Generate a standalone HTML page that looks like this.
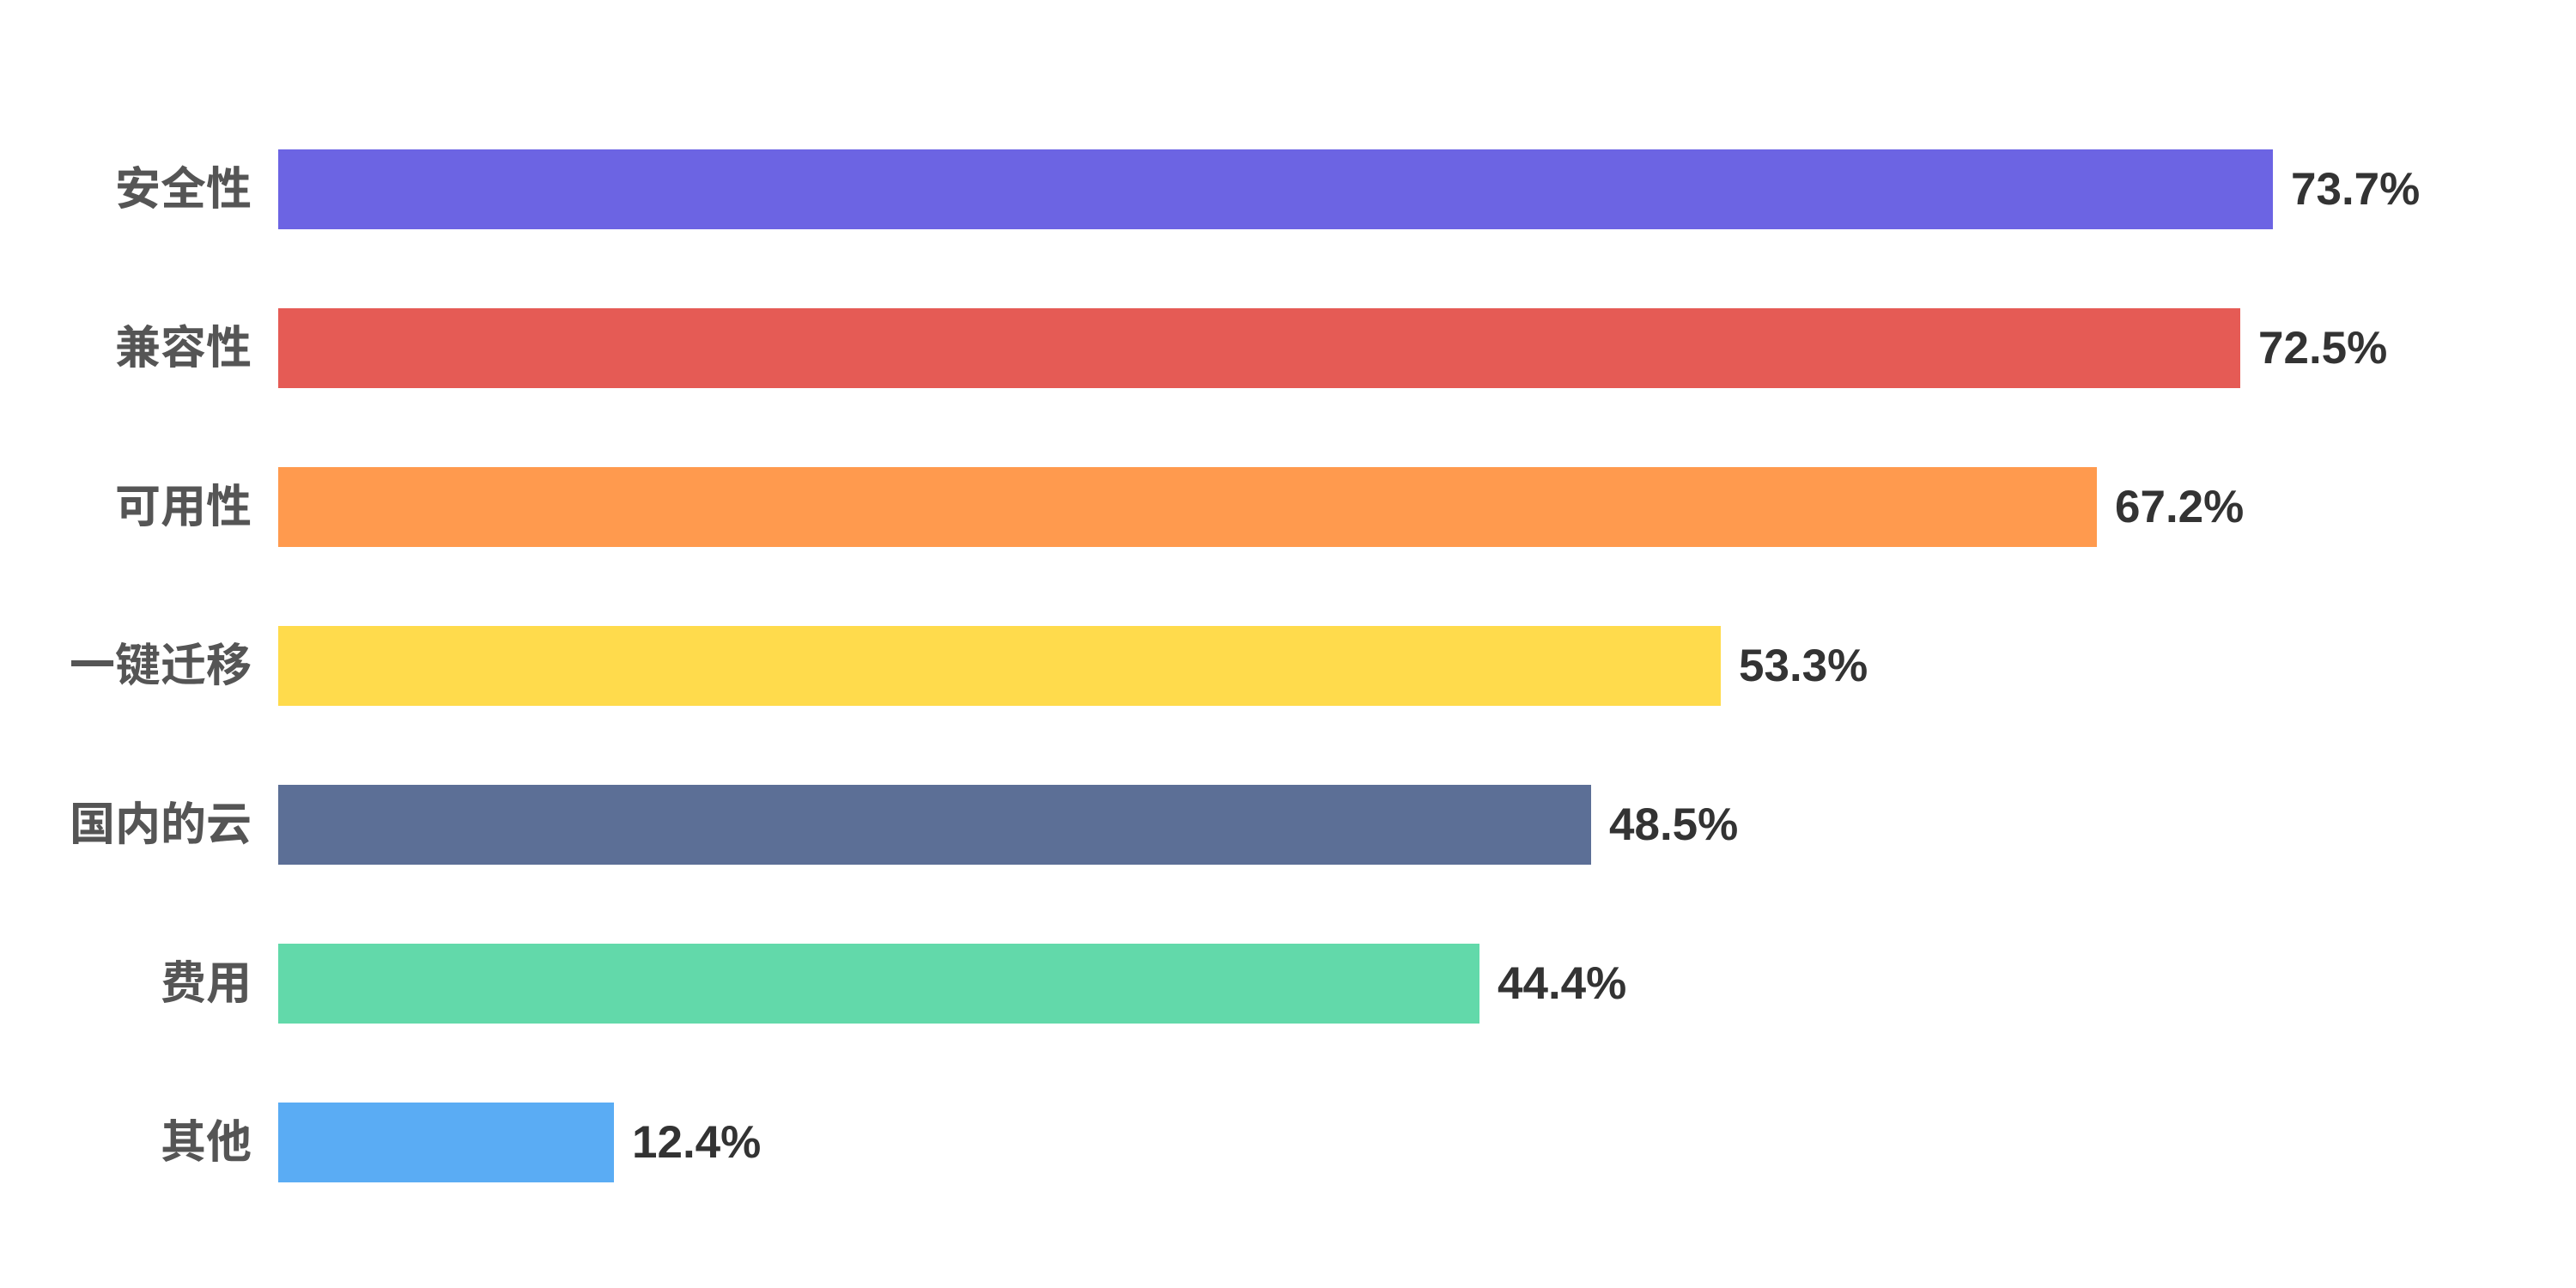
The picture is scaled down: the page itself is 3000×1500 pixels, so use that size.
<!DOCTYPE html>
<html><head><meta charset="utf-8"><style>
body{margin:0;width:3000px;height:1500px;background:#fff;position:relative;overflow:hidden;font-family:"Liberation Sans","Noto Sans CJK SC",sans-serif;font-weight:bold}
.l{position:absolute;right:2707px;font-size:53px;color:#555;line-height:93px;white-space:nowrap}
.b{position:absolute;left:324px;height:93px}
.v{position:absolute;font-size:53px;color:#333;line-height:93px;white-space:nowrap}
</style></head><body>
<div class="l" style="top:174px">安全性</div><div class="b" style="top:174px;width:2323px;background:#6c64e3"></div><div class="v" style="top:174px;left:2668px">73.7%</div>
<div class="l" style="top:359px">兼容性</div><div class="b" style="top:359px;width:2285px;background:#e55b55"></div><div class="v" style="top:359px;left:2630px">72.5%</div>
<div class="l" style="top:544px">可用性</div><div class="b" style="top:544px;width:2118px;background:#ff9a4e"></div><div class="v" style="top:544px;left:2463px">67.2%</div>
<div class="l" style="top:729px">一键迁移</div><div class="b" style="top:729px;width:1680px;background:#ffdb4c"></div><div class="v" style="top:729px;left:2025px">53.3%</div>
<div class="l" style="top:914px">国内的云</div><div class="b" style="top:914px;width:1529px;background:#5c6f96"></div><div class="v" style="top:914px;left:1874px">48.5%</div>
<div class="l" style="top:1099px">费用</div><div class="b" style="top:1099px;width:1399px;background:#62d9aa"></div><div class="v" style="top:1099px;left:1744px">44.4%</div>
<div class="l" style="top:1284px">其他</div><div class="b" style="top:1284px;width:391px;background:#5aacf4"></div><div class="v" style="top:1284px;left:736px">12.4%</div>
</body></html>
